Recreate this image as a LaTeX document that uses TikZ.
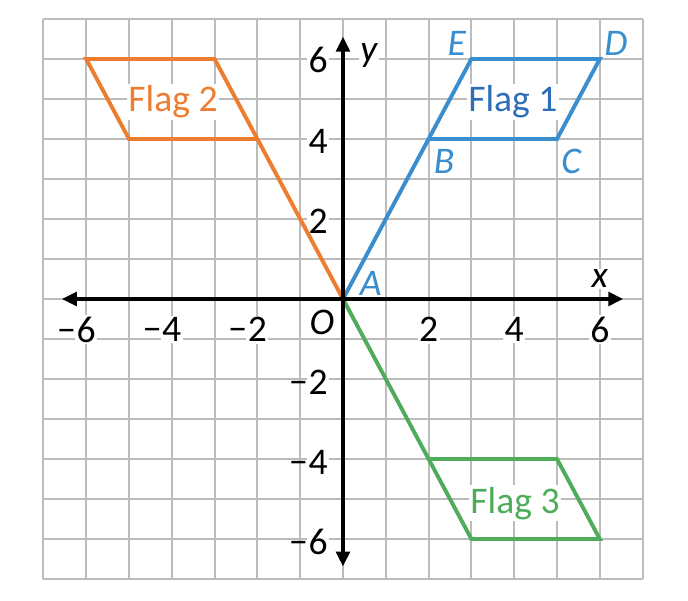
\documentclass[tikz,border=0pt]{standalone}
\usepackage{fontspec}
\setmainfont{Carlito}
\usetikzlibrary{arrows.meta}
\definecolor{fOrange}{RGB}{237,125,49}
\definecolor{fBlue}{RGB}{58,142,206}
\definecolor{fBlueText}{RGB}{46,110,182}
\definecolor{fGreen}{RGB}{78,172,90}
\definecolor{gridGray}{RGB}{188,188,188}
\begin{document}
\begin{tikzpicture}[x=1cm,y=0.9346cm,
  gridline/.style={draw=gridGray,line width=1.3pt},
  axisline/.style={draw=black,line width=2.7pt,
    arrows={Triangle[length=10pt,width=9pt]-Triangle[length=10pt,width=9pt]}},
  flagline/.style={line width=2.6pt},
  lbl/.style={fill=white,inner sep=1pt},
  tick/.style={lbl,font=\fontsize{25}{25}\selectfont},
  letter/.style={lbl,font=\fontsize{25}{25}\selectfont\itshape},
  flagtext/.style={lbl,anchor=base,font=\fontsize{25}{25}\selectfont}]
\useasboundingbox (-8.014cm,-7.033cm) rectangle (8.061cm,6.986cm);
% grid
\foreach \i in {-7,...,7}{
  \draw[gridline] (\i,-7) -- (\i,7);
  \draw[gridline] (-7,\i) -- (7,\i);
}
% coordinates
\coordinate (O) at (0,0);
\coordinate (B) at (2,4);
\coordinate (C) at (5,4);
\coordinate (D) at (6,6);
\coordinate (E) at (3,6);
\coordinate (B2) at (-2,4);
\coordinate (C2) at (-5,4);
\coordinate (D2) at (-6,6);
\coordinate (E2) at (-3,6);
\coordinate (B3) at (2,-4);
\coordinate (C3) at (5,-4);
\coordinate (D3) at (6,-6);
\coordinate (E3) at (3,-6);
\coordinate (xl) at (-6.57,0);
\coordinate (xr) at (6.55,0);
\coordinate (yb) at (0,-6.69);
\coordinate (yt) at (0,6.56);
% tick labels
\node[tick] (ty6) at (-0.58,5.97) {6};
\node[tick] (ty4) at (-0.58,3.93) {4};
\node[tick] (ty2) at (-0.58,1.95) {2};
\node[tick] (tym2) at (-0.58,-2.08) {\llap{−\kern0.5pt}2};
\node[tick] (tym4) at (-0.58,-4.08) {\llap{−\kern0.5pt}4};
\node[tick] (tym6) at (-0.58,-6.08) {\llap{−\kern0.5pt}6};
\node[tick] (txm6) at (-6,-0.77) {\llap{−\kern0.5pt}6};
\node[tick] (txm4) at (-4,-0.77) {\llap{−\kern0.5pt}4};
\node[tick] (txm2) at (-2,-0.77) {\llap{−\kern0.5pt}2};
\node[tick] (tx2) at (2,-0.77) {2};
\node[tick] (tx4) at (4,-0.77) {4};
\node[tick] (tx6) at (6,-0.77) {6};
\node[letter] (lO) at (-0.49,-0.575) {O};
\node[letter] (lx) at (6.0,0.5) {x};
\node[letter] (ly) at (0.6,6.08) {y};
% point labels
\node[letter,text=fBlue] (lA) at (0.65,0.4) {A};
\node[letter,text=fBlue] (lB) at (2.36,3.43) {B};
\node[letter,text=fBlue] (lC) at (5.33,3.43) {C};
\node[letter,text=fBlue] (lD) at (6.38,6.4) {D};
\node[letter,text=fBlue] (lE) at (2.66,6.4) {E};
% flag labels
\node[flagtext,text=fBlueText] (f1) at (3.97,4.68) {Flag 1};
\node[flagtext,text=fOrange] (f2) at (-3.97,4.68) {Flag 2};
\node[flagtext,text=fGreen] (f3) at (4.02,-5.35) {Flag 3};
% flags
\draw[flagline,fBlue] (O) -- (E) -- (D) -- (C) -- (B);
\draw[flagline,fOrange] (O) -- (E2) -- (D2) -- (C2) -- (B2);
\draw[flagline,fGreen] (O) -- (E3) -- (D3) -- (C3) -- (B3);
% axes
\draw[axisline] (xl) -- (xr);
\draw[axisline] (yb) -- (yt);
\end{tikzpicture}
\end{document}
